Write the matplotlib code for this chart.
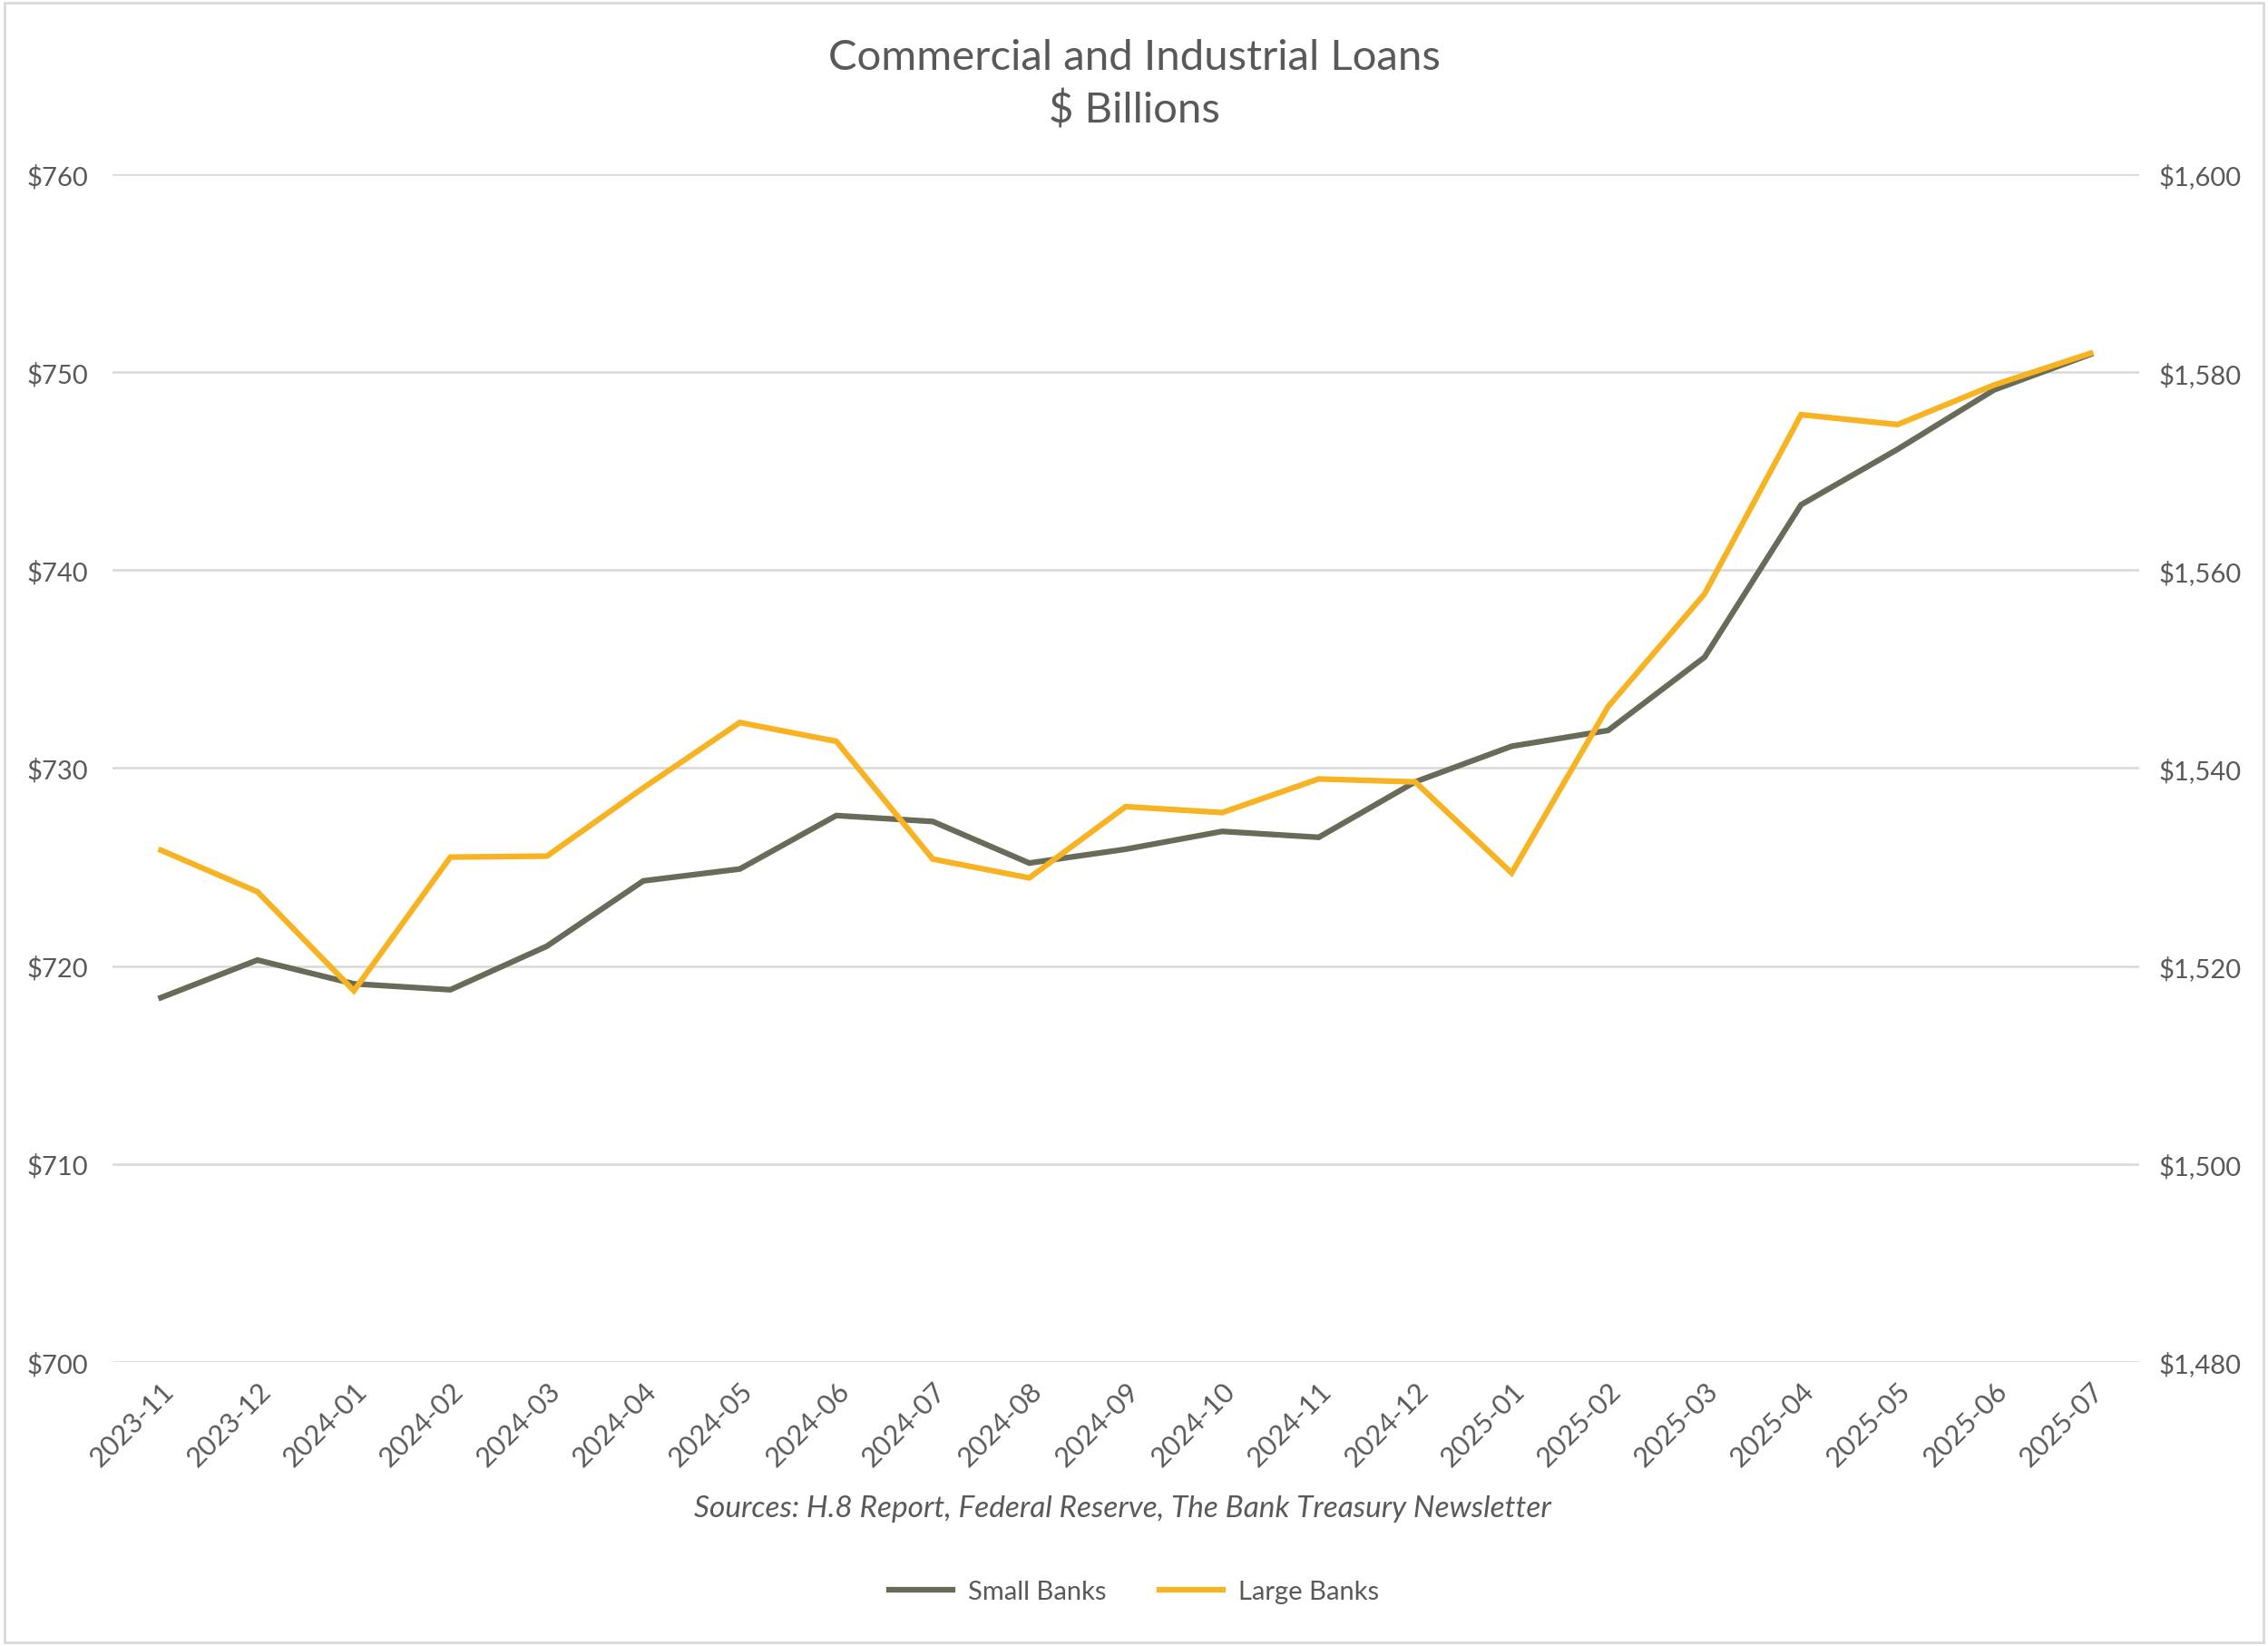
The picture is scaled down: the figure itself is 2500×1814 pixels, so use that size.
import matplotlib.pyplot as plt
from matplotlib.ticker import FuncFormatter

# данные (читались с картинки)
months = ['2023-11', '2023-12', '2024-01', '2024-02', '2024-03', '2024-04', '2024-05',
          '2024-06', '2024-07', '2024-08', '2024-09', '2024-10', '2024-11', '2024-12',
          '2025-01', '2025-02', '2025-03', '2025-04', '2025-05', '2025-06', '2025-07']
small_banks = [718.4, 720.3, 719.1, 718.8, 721.0, 724.3, 724.9, 727.6, 727.3, 725.2, 725.9,
               726.8, 726.5, 729.3, 731.1, 731.9, 735.6, 743.3, 746.1, 749.1, 750.9]
large_banks = [1531.7, 1527.5, 1517.5, 1531.0, 1531.1, 1538.0, 1544.6, 1542.7, 1530.8, 1528.9,
               1536.1, 1535.5, 1538.9, 1538.6, 1529.4, 1546.2, 1557.6, 1575.7, 1574.7, 1578.7,
               1581.9]
left_ticks = [700, 710, 720, 730, 740, 750, 760]
right_ticks = [1480, 1500, 1520, 1540, 1560, 1580, 1600]

txt = '#595959'
c_small = '#686B58'
c_large = '#F7B322'
plt.rcParams['font.family'] = ['Lato', 'DejaVu Sans']

fig = plt.figure(figsize=(25, 18.15), dpi=100)
ax = fig.add_axes([0.0497, 0.1725, 0.8933, 0.7212])
ax2 = ax.twinx()

x = list(range(len(months)))
l1, = ax.plot(x, small_banks, color=c_small, lw=4.5, label='Small Banks', solid_joinstyle='miter')
l2, = ax2.plot(x, large_banks, color=c_large, lw=4.5, label='Large Banks', solid_joinstyle='miter')

ax.set_xlim(-0.5, len(months) - 0.5)
ax.set_ylim(700, 760)
ax2.set_ylim(1480, 1600)
ax.set_yticks(left_ticks)
ax2.set_yticks(right_ticks)
ax.yaxis.set_major_formatter(FuncFormatter(lambda v, p: f'${v:,.0f}'))
ax2.yaxis.set_major_formatter(FuncFormatter(lambda v, p: f'${v:,.0f}'))
ax.set_xticks(x)
ax.set_xticklabels(months, rotation=45, ha='right', rotation_mode='anchor')

ax.grid(axis='y', color='#D9D9D9', lw=1.8)
ax.set_axisbelow(True)
for a in (ax, ax2):
    for s in a.spines.values():
        s.set_visible(False)
    a.tick_params(length=0, labelsize=21, colors=txt)
for lab in ax.get_yticklabels():
    lab.set_horizontalalignment('left')
ax.tick_params(axis='y', pad=68)
ax2.tick_params(axis='y', pad=16)
ax.tick_params(axis='x', pad=12, labelsize=22)

fig.text(0.5, 0.9647, 'Commercial and Industrial Loans', ha='center', va='center',
         fontsize=34, color=txt)
fig.text(0.5, 0.9333, '$ Billions', ha='center', va='center', fontsize=34, color=txt)
fig.text(0.495, 0.0838, 'Sources: H.8 Report, Federal Reserve, The Bank Treasury Newsletter',
         ha='center', va='center', fontsize=24, style='italic', color=txt)
fig.legend(handles=[l1, l2], loc='center', bbox_to_anchor=(0.5, 0.033), ncol=2, frameon=False,
           fontsize=21, labelcolor=txt, handlelength=2.4, columnspacing=2.0, handletextpad=0.6)

# рамка вокруг
fig.patches.append(plt.Rectangle((0.002, 0.002), 0.996, 0.996, transform=fig.transFigure,
                                 fill=False, edgecolor='#D9D9D9', lw=2))

fig.savefig('out.png', dpi=100, facecolor='white')
